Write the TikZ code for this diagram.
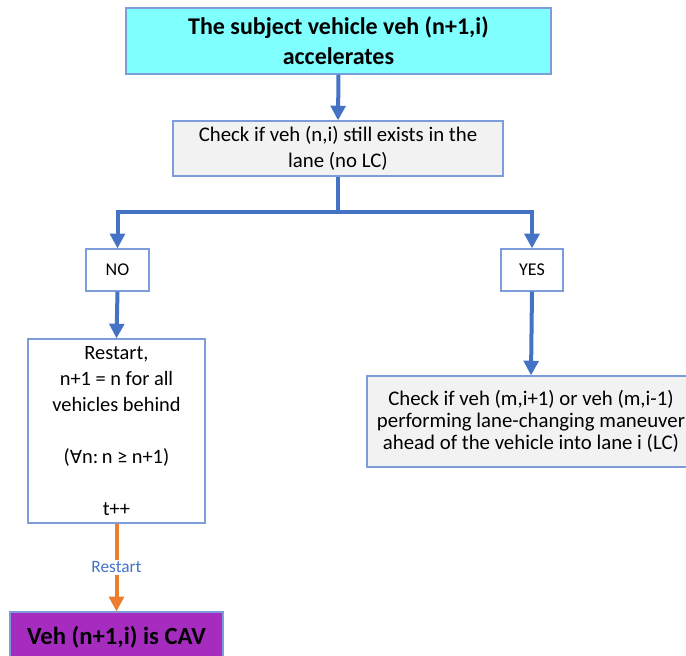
\documentclass[tikz,border=0pt]{standalone}
\usepackage{fontspec}
\setmainfont{Carlito}
\newfontfamily\symfont{DejaVu Sans}
\usetikzlibrary{arrows.meta}
\definecolor{flowblue}{HTML}{4472C4}
\definecolor{edgeblue}{HTML}{7C9DDA}
\definecolor{headcyan}{HTML}{80FFFF}
\definecolor{boxgray}{HTML}{F2F2F2}
\definecolor{cavpurple}{HTML}{A52CBF}
\definecolor{floworange}{HTML}{ED7D31}
\tikzset{
  box/.style={draw=edgeblue, line width=0.9pt, align=center, inner sep=2pt},
  flow/.style={draw=flowblue, line width=3pt},
  flowarrow/.style={flow, -{Triangle[width=11pt,length=11pt]}},
  restartarrow/.style={draw=floworange, line width=3pt, -{Triangle[width=11pt,length=11pt]}},
}
\begin{document}
\begin{tikzpicture}[x=0.75pt,y=-0.75pt]
  \useasboundingbox (0,0) rectangle (686,656);

  % start of the flow
  \node[box, fill=headcyan, minimum width=425*0.75pt, minimum height=66*0.75pt,
        font=\fontsize{18}{22.5}\selectfont\bfseries] (top) at (338.5,41)
        {The subject vehicle veh (n+1,i)\\accelerates};

  % first check
  \node[box, fill=boxgray, minimum width=330*0.75pt, minimum height=55*0.75pt,
        font=\fontsize{15.6}{19.5}\selectfont] (check) at (338,148.5)
        {Check if veh (n,i) still exists in the\\lane (no LC)};

  % answers
  \node[box, fill=white, minimum width=63*0.75pt, minimum height=42*0.75pt,
        font=\fontsize{13.5}{15}\selectfont] (no) at (117.5,270) {NO};
  \node[box, fill=white, minimum width=62*0.75pt, minimum height=42*0.75pt,
        font=\fontsize{13.5}{15}\selectfont] (yes) at (532,270) {YES};

  % restart branch
  \node[box, fill=white, minimum width=177*0.75pt, minimum height=184*0.75pt,
        font=\fontsize{15.3}{19.5}\selectfont] (restart) at (116.5,431)
        {Restart,\\n+1 = n for all\\vehicles behind\\[19.5pt]({\symfont\fontsize{13.5}{19.5}\selectfont ∀}n:\,n ≥ n+1)\\[19.5pt]t++};

  % lane-change check
  \node[box, fill=boxgray, minimum width=328*0.75pt, minimum height=91*0.75pt,
        font=\fontsize{15.6}{16.5}\selectfont] (lc) at (531,421.5)
        {Check if veh (m,i+1) or veh (m,i-1)\\performing lane-changing maneuver\\ahead of the vehicle into lane i (LC)};

  % final state
  \node[box, fill=cavpurple, minimum width=213*0.75pt, minimum height=50*0.75pt,
        font=\fontsize{18.5}{20}\selectfont\bfseries] (cav) at (116.5,637)
        {Veh (n+1,i) is CAV};

  % connectors
  \coordinate (split) at (338,212);
  \draw[flowarrow] (top.south) -- (check.north);
  \draw[flow] (check.south) -- (split);
  \draw[flowarrow] (split) -| (no.north);
  \draw[flowarrow] (split) -| (yes.north);
  \draw[flowarrow] (no.south) -- (restart.north);
  \draw[flowarrow] (yes.south) -- (lc.north);
  \draw[restartarrow] (restart.south) -- node[pos=0.5, fill=white, inner sep=1.5pt,
        text=flowblue, font=\fontsize{13}{14}\selectfont] (lbl) {Restart} (cav.north);
\end{tikzpicture}
\end{document}
